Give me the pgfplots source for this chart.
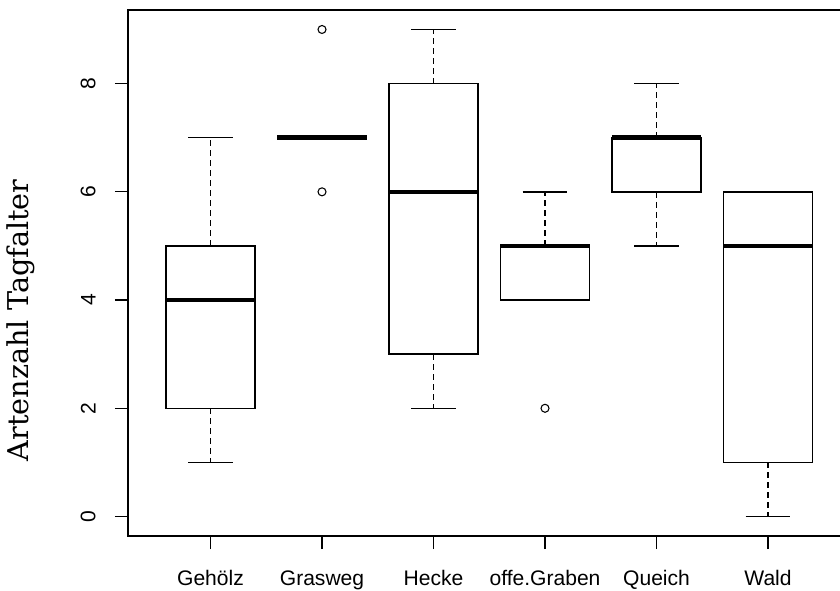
\documentclass[border=0pt]{standalone}
\usepackage{fontspec}
\setmainfont{Liberation Sans}
\newfontfamily\labelfont{DejaVu Serif}
\usepackage{pgfplots}
\pgfplotsset{compat=1.18}
\usepgfplotslibrary{statistics}
\pgfplotsset{
  rbox/.style={
    solid, black, line width=1.1pt,
    mark=o, mark size=3pt, mark options={solid, line width=0.8pt},
    boxplot/draw direction=y,
    boxplot/box extend=0.8,
    boxplot/whisker extend=0.4,
    boxplot/every median/.style={line width=3.4pt},
    boxplot/draw/lower whisker/.code={%
      \draw[dash pattern=on 4.5pt off 3pt, line width=1.1pt]
        (boxplot box cs:\pgfplotsboxplotvalue{lower quartile},0.5) --
        (boxplot box cs:\pgfplotsboxplotvalue{lower whisker},0.5);
      \draw[solid, line width=1.1pt]
        (boxplot whisker cs:\pgfplotsboxplotvalue{lower whisker},0) --
        (boxplot whisker cs:\pgfplotsboxplotvalue{lower whisker},1);
    },
    boxplot/draw/upper whisker/.code={%
      \draw[dash pattern=on 4.5pt off 3pt, line width=1.1pt]
        (boxplot box cs:\pgfplotsboxplotvalue{upper quartile},0.5) --
        (boxplot box cs:\pgfplotsboxplotvalue{upper whisker},0.5);
      \draw[solid, line width=1.1pt]
        (boxplot whisker cs:\pgfplotsboxplotvalue{upper whisker},0) --
        (boxplot whisker cs:\pgfplotsboxplotvalue{upper whisker},1);
    },
  }
}
\begin{document}
\begin{tikzpicture}
\begin{axis}[
  at={(96pt,40.5pt)}, anchor=south west,
  scale only axis, width=541.9pt, height=394.5pt,
  xmin=0.26, xmax=6.74, ymin=-0.36, ymax=9.36,
  axis line style={line width=1pt, black},
  xtick={1,2,3,4,5,6},
  xticklabels={Gehölz,Grasweg,Hecke,offe.Graben,Queich,Wald},
  ytick={0,2,4,6,8},
  tick align=outside, xtick pos=left, ytick pos=left,
  major tick length=9.75pt,
  tick style={line width=1pt, black},
  ticklabel style={font=\fontsize{15.8}{18}\selectfont},
  yticklabel style={rotate=90, yshift=11pt},
  xticklabel style={yshift=-12.5pt},
  /pgf/number format/assume math mode=true,
  every axis y label/.style={at={(axis description cs:-0.148,0.41)}, rotate=90, anchor=center},
  ylabel={\labelfont\fontsize{21.5}{24}\selectfont Artenzahl Tagfalter},
  clip=false,
]
% Gehoelz
\addplot[rbox, boxplot prepared={draw position=1, lower whisker=1, lower quartile=2, median=4, upper quartile=5, upper whisker=7}] coordinates {};
% Grasweg
\addplot[rbox, boxplot prepared={draw position=2, lower whisker=7, lower quartile=7, median=7, upper quartile=7, upper whisker=7}] table[row sep=\\, y index=0] {6\\ 9\\};
% Hecke
\addplot[rbox, boxplot prepared={draw position=3, lower whisker=2, lower quartile=3, median=6, upper quartile=8, upper whisker=9}] coordinates {};
% offe.Graben
\addplot[rbox, boxplot prepared={draw position=4, lower whisker=4, lower quartile=4, median=5, upper quartile=5, upper whisker=6}] table[row sep=\\, y index=0] {2\\};
% Queich
\addplot[rbox, boxplot prepared={draw position=5, lower whisker=5, lower quartile=6, median=7, upper quartile=7, upper whisker=8}] coordinates {};
% Wald
\addplot[rbox, boxplot prepared={draw position=6, lower whisker=0, lower quartile=1, median=5, upper quartile=6, upper whisker=6}] coordinates {};
\end{axis}
\pgfresetboundingbox
\useasboundingbox (0,0) rectangle (630pt,442.5pt);
\end{tikzpicture}
\end{document}
